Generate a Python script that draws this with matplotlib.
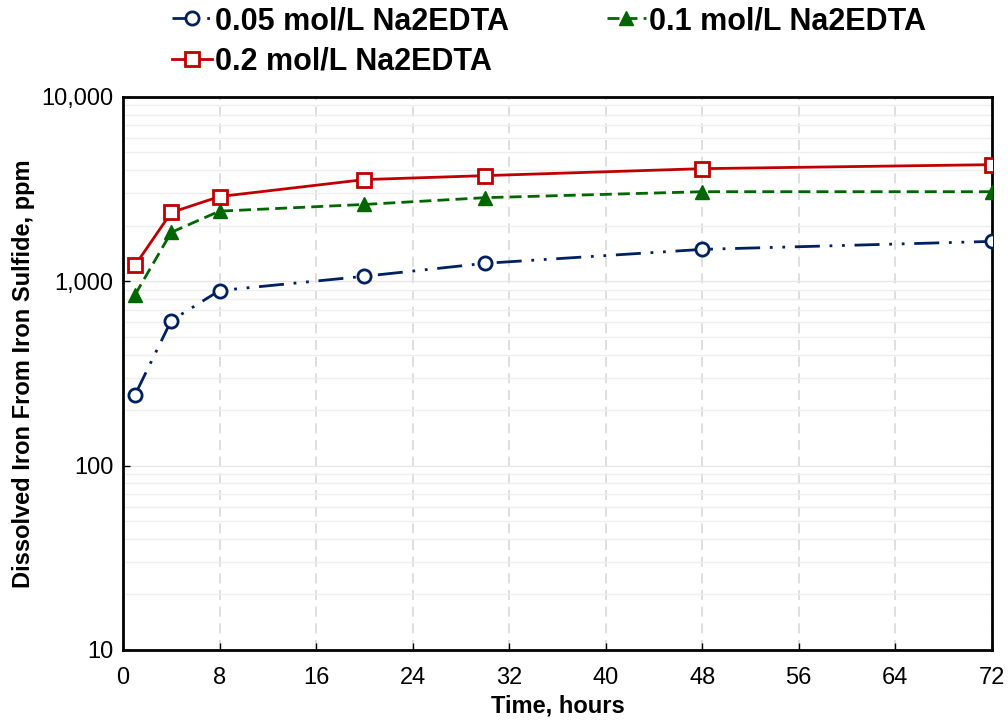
import matplotlib
matplotlib.use("Agg")
import matplotlib.pyplot as plt
from matplotlib.ticker import FuncFormatter, FixedLocator, LogLocator, NullFormatter

plt.rcParams['font.family'] = ['Liberation Sans', 'DejaVu Sans']

time_h = [1, 4, 8, 20, 30, 48, 72]
fe_005 = [242, 612, 890, 1064, 1251, 1489, 1645]
fe_01 = [845, 1842, 2400, 2610, 2840, 3060, 3060]
fe_02 = [1220, 2360, 2880, 3560, 3740, 4080, 4290]
labels = ["0.05 mol/L Na2EDTA", "0.1 mol/L Na2EDTA", "0.2 mol/L Na2EDTA"]
x_ticks = [0, 8, 16, 24, 32, 40, 48, 56, 64, 72]

fig = plt.figure(figsize=(10.08, 7.23), dpi=100)
ax = fig.add_axes([0.122, 0.101, 0.862, 0.765])

ax.plot(time_h, fe_005, color='#002060', lw=2,
        linestyle=(0, (9, 3.5, 1, 3.5, 1, 3.5)),
        marker='o', markersize=9.5, markerfacecolor='white',
        markeredgecolor='#002060', markeredgewidth=2, label=labels[0], zorder=3)
ax.plot(time_h, fe_01, color='#006600', lw=2, linestyle=(0, (4.3, 2.2)),
        marker='^', markersize=10.5, markerfacecolor='#006600',
        markeredgecolor='#006600', label=labels[1], zorder=3)
ax.plot(time_h, fe_02, color='#C00000', lw=2, linestyle='-',
        marker='s', markersize=10.5, markerfacecolor='white',
        markeredgecolor='#C00000', markeredgewidth=2, label=labels[2], zorder=3)

ax.set_yscale('log')
ax.set_ylim(10, 10000)
ax.set_xlim(0, 72)
ax.xaxis.set_major_locator(FixedLocator(x_ticks))
ax.yaxis.set_major_locator(FixedLocator([10, 100, 1000, 10000]))
ax.yaxis.set_minor_locator(LogLocator(base=10, subs=range(2, 10)))
ax.yaxis.set_minor_formatter(NullFormatter())
ax.yaxis.set_major_formatter(FuncFormatter(lambda v, p: f"{int(round(v)):,}"))

ax.grid(axis='x', which='major', color='#d9d9d9', linestyle=(0, (6, 4)), lw=1.2)
ax.grid(axis='y', which='major', color='#e6e6e6', linestyle='-', lw=1)
ax.grid(axis='y', which='minor', color='#eeeeee', linestyle='-', lw=1)
ax.set_axisbelow(True)

for s in ax.spines.values():
    s.set_linewidth(2)
    s.set_color('black')

ax.tick_params(axis='both', which='major', direction='in', length=5, width=1,
               labelsize=17)
ax.tick_params(axis='y', which='major', pad=7)
ax.tick_params(axis='x', which='major', pad=12.5)
ax.tick_params(axis='y', which='minor', length=0)

ax.set_xlabel("Time, hours", fontsize=17, fontweight='bold', labelpad=4)
ax.set_ylabel("Dissolved Iron From Iron Sulfide, ppm", fontsize=17,
              fontweight='bold', labelpad=4.5)

handles, labs = ax.get_legend_handles_labels()
order = [0, 2, 1]
leg = fig.legend([handles[i] for i in order], [labs[i] for i in order],
                 loc='upper left', bbox_to_anchor=(0.1706, 0.9915), ncol=2,
                 frameon=False, prop={'weight': 'bold', 'size': 22},
                 handlelength=1.3, handletextpad=0.1, columnspacing=3.2,
                 labelspacing=0.33, borderaxespad=0, borderpad=0)

fig.savefig("out.png", dpi=100)
